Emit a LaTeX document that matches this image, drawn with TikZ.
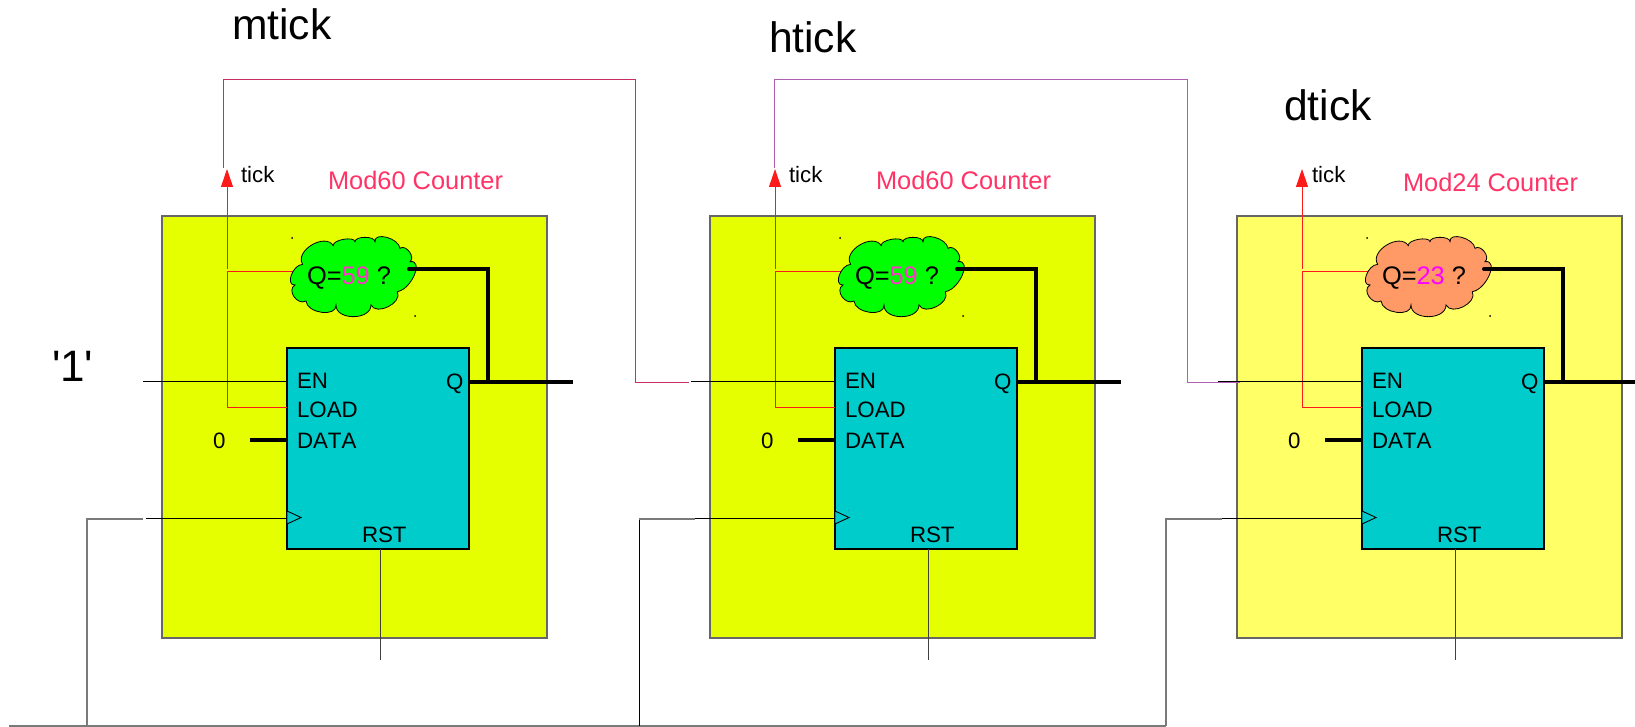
\documentclass[tikz,border=0pt]{standalone}
\usepackage{fontspec}
\setmainfont{Liberation Sans}[Kerning=Off]
\newfontfamily\plainquote{Liberation Sans}
\usetikzlibrary{arrows.meta}
\definecolor{boxyellow}{HTML}{E6FF00}
\definecolor{paleyellow}{HTML}{FFFF66}
\definecolor{cntteal}{HTML}{00CCCC}
\definecolor{cloudgreen}{HTML}{00FF00}
\definecolor{cloudorange}{HTML}{FF9966}
\definecolor{titlepink}{HTML}{FF3366}
\definecolor{numA}{HTML}{FF33CC}
\definecolor{numB}{HTML}{FF00FF}
\definecolor{wireA}{HTML}{C8305F}
\definecolor{wireB}{HTML}{B060B0}
\definecolor{tickred}{HTML}{FF1A1A}
\definecolor{wiregray}{HTML}{7A7A7A}
\tikzset{
  txt/.style={inner sep=0pt,outer sep=0pt,anchor=base west,text=black},
  sz22/.style={font=\fontsize{22.3}{24}\selectfont},
  sz25/.style={font=\fontsize{25.4}{28}\selectfont},
  sz42/.style={font=\fontsize{42.6}{46}\selectfont},
  modbox/.style={draw=black!60,line width=1.5pt,outer sep=0pt,anchor=north west,minimum width=385pt,minimum height=422pt,inner sep=0pt},
  cntbox/.style={draw=black,fill=cntteal,line width=1.1pt,outer sep=0pt,anchor=north west,minimum width=182pt,minimum height=201pt,inner sep=0pt},
  thin wire/.style={draw=black,line width=.9pt},
  thick wire/.style={draw=black,line width=4pt},
  red wire/.style={draw=tickred,line width=1pt},
  gray wire/.style={draw=wiregray,line width=1.3pt},
}
\begin{document}
\begin{tikzpicture}[x=1pt,y=-1pt]
\useasboundingbox (0,0) rectangle (1635,727);
\foreach \i/\off/\boxc/\cloudc/\num/\numc/\title/\tickx/\titley/\qend in {
  1/0/boxyellow/cloudgreen/59/numA/Mod60 Counter/241/189.5/573,
  2/548/boxyellow/cloudgreen/59/numA/Mod60 Counter/241/189.5/573,
  3/1075/paleyellow/cloudorange/23/numB/Mod24 Counter/237/191.5/560}{
\begin{scope}[shift={(\off,0)}]
  \node[modbox,fill=\boxc] (mod\i) at (162,216) {};
  \node[cntbox] (cnt\i) at (287,348) {};
  % anchor points
  \coordinate (enfree\i) at (143,381);
  \coordinate (enin\i) at (287,381);
  \coordinate (loadin\i) at (287,407);
  \coordinate (loadc\i) at (227,407);
  \coordinate (cmpc\i) at (227,272);
  \coordinate (cloudin\i) at (293,272);
  \coordinate (tickbase\i) at (227,269);
  \coordinate (ticktip\i) at (227,169);
  \coordinate (qout\i) at (469,382);
  \coordinate (qend\i) at (\qend,382);
  \coordinate (qj\i) at (488,382);
  \coordinate (qc\i) at (488,269);
  \coordinate (cloudout\i) at (409,269);
  \coordinate (datafree\i) at (250,440);
  \coordinate (datain\i) at (287,440);
  \coordinate (clkfree\i) at (146,518);
  \coordinate (clkin\i) at (287,518);
  \coordinate (rstout\i) at (380,549);
  \coordinate (rstend\i) at (380,660);
  % wires
  \draw[red wire] (loadin\i) -- (loadc\i) -- (cmpc\i) -- (cloudin\i);
  \draw[red wire,-{Triangle[length=18pt,width=12pt]}] (tickbase\i) -- (ticktip\i);
  \draw[thin wire] (enfree\i) -- (enin\i);
  \draw[thin wire] (clkfree\i) -- (clkin\i);
  \draw[thin wire,draw=black!75] (rstout\i) -- (rstend\i);
  \draw[thick wire] (datafree\i) -- (datain\i);
  \draw[thick wire] (qout\i) -- (qend\i);
  % clock triangle
  \draw[black,fill=cntteal,line width=.9pt] (287,511) -- (301,517.5) -- (287,524) -- cycle;
  \fill[black!70] (300.7,510.7) circle (.4pt);
  % small marks at the cloud's corners
  \fill[black] (292,238) circle (1pt);
  \fill[black] (415,316) circle (1pt);
  % cloud
  \begin{scope}[shift={(280,225)},x=.33333pt,y=-.33333pt]
    \draw[black,fill=\cloudc,line width=.8pt,line join=miter]
      (68,118) .. controls (38,119.3) and (15,181.3) .. (45,180)
      .. controls (19,194.7) and (52,242.7) .. (78,228)
      .. controls (80.7,265.3) and (170.7,277.3) .. (168,240)
      .. controls (167.3,286.7) and (272.3,286.7) .. (273,240)
      .. controls (289.7,273.3) and (368.7,233.3) .. (352,200)
      .. controls (394.7,193.3) and (432.7,103.3) .. (390,110)
      .. controls (407.3,96.7) and (377.3,56.7) .. (360,70)
      .. controls (356.7,39.3) and (281.7,19.3) .. (285,50)
      .. controls (285,32.7) and (225,32.7) .. (225,50)
      .. controls (221.7,32.7) and (156.7,44.7) .. (160,62)
      .. controls (134.7,22) and (42.7,78) .. (68,118) -- cycle;
  \end{scope}
  \draw[thick wire,line join=miter,line cap=round] (qj\i) -- (qc\i) -- (cloudout\i);
  % labels
  \node[txt,sz25] (cmp\i) at (307,284) {Q=\textcolor{\numc}{\num} ?};
  \node[txt,sz22] (en\i) at (297,388) {EN};
  \node[txt,sz22] (load\i) at (297,417) {LOAD};
  \node[txt,sz22] (data\i) at (297,448) {DATA};
  \node[txt,sz22] (q\i) at (446,389) {Q};
  \node[txt,sz22] (rst\i) at (362,542) {RST};
  \node[txt,sz22] (zero\i) at (213,448) {0};
  \node[txt,sz22] (tick\i) at (\tickx,183) {tick};
  \node[txt,sz25,text=titlepink] (title\i) at (328,\titley) {\title};
\end{scope}
}
% links between the counters
\coordinate (wireoutA) at (223.5,168);
\coordinate (topA) at (223.5,79.5);
\coordinate (topB) at (635.5,79.5);
\coordinate (botB) at (635.5,382.5);
\coordinate (entryB) at (689,382.5);
\draw[draw=wireA,line width=1pt] (wireoutA) -- (topA) -- (topB) -- (botB) -- (entryB);
\coordinate (wireoutC) at (774,168);
\coordinate (topC) at (774,79.5);
\coordinate (topD) at (1187,79.5);
\coordinate (botD) at (1187,382.5);
\coordinate (entryD) at (1240,382.5);
\draw[draw=wireB,line width=1pt] (wireoutC) -- (topC) -- (topD) -- (botD) -- (entryD);
\draw[thin wire] (enfree3) -- (enin3);
% clock distribution
\coordinate (clkstart) at (9,726);
\coordinate (clkend) at (1166,726);
\draw[gray wire] (clkstart) -- (clkend);
\coordinate (cA) at (87,726);   \coordinate (cAt) at (87,519);   \coordinate (cAe) at (143,519);
\coordinate (cB) at (639,726);  \coordinate (cBt) at (639,519);  \coordinate (cBe) at (695,519);
\coordinate (cC) at (1166,726); \coordinate (cCt) at (1166,519); \coordinate (cCe) at (1222,519);
\draw[gray wire,line width=1.1pt] (cA) -- (cAt) -- (cAe);
\draw[thin wire] (cB) -- (cBt);
\draw[gray wire] (cBt) -- (cBe);
\draw[gray wire] (cC) -- (cCt) -- (cCe);
% large labels
\node[txt,sz42] (mtick) at (232,40) {mtick};
\node[txt,sz42] (htick) at (769,53) {htick};
\node[txt,sz42] (dtick) at (1284,121) {dtick};
\node[txt,font=\fontsize{44}{48}\plainquote\selectfont] (one) at (52,381) {'1'};
\end{tikzpicture}
\end{document}
